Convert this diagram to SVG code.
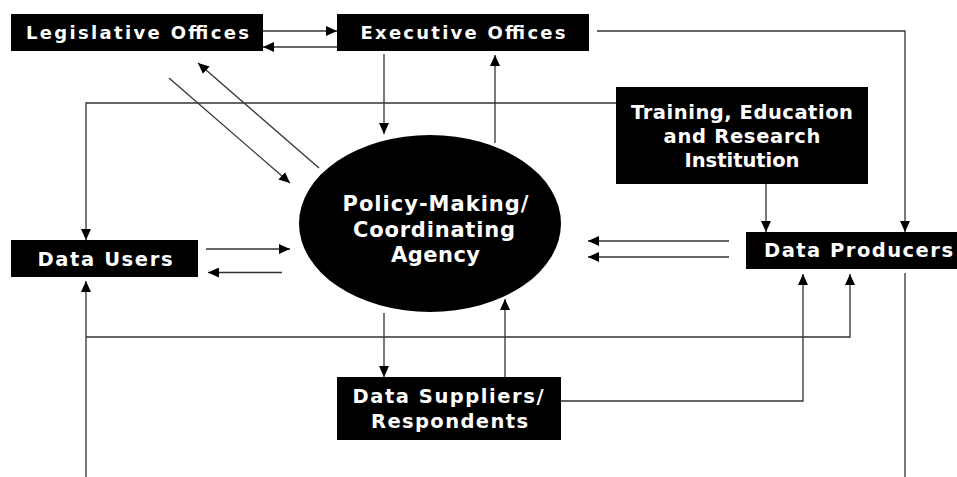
<svg xmlns="http://www.w3.org/2000/svg" width="957" height="477" viewBox="0 0 957 477">
<style>
.box{fill:#000;}
.t{fill:#fff;font-family:"DejaVu Sans","Liberation Sans",sans-serif;font-weight:bold;text-anchor:middle;}
.s{font-size:18px;}
.m{font-size:19.5px;}
.l{font-size:21px;}
.c{fill:none;stroke:#333;stroke-width:1.3;}
.a{marker-end:url(#ah);}
</style>
<defs>
<marker id="ah" markerUnits="userSpaceOnUse" markerWidth="11" markerHeight="10" refX="11" refY="5" orient="auto">
<path d="M0,0 L11,5 L0,10 z" fill="#000"/>
</marker>
</defs>
<rect width="957" height="477" fill="#fff"/>
<g id="connectors">
<line class="c a" x1="263" y1="31" x2="337" y2="31"/>
<line class="c a" x1="337" y1="47" x2="263" y2="47"/>
<polyline class="c a" points="597,31 905,31 905,232"/>
<line class="c a" x1="384" y1="54" x2="384" y2="134"/>
<line class="c a" x1="495" y1="143" x2="495" y2="55"/>
<line class="c a" x1="169" y1="78" x2="290" y2="183"/>
<line class="c a" x1="319" y1="168" x2="198" y2="63"/>
<polyline class="c a" points="616,103 86,103 86,240"/>
<line class="c a" x1="766" y1="184" x2="766" y2="232"/>
<line class="c a" x1="729" y1="241" x2="588" y2="241"/>
<line class="c a" x1="729" y1="257" x2="588" y2="257"/>
<line class="c a" x1="206" y1="249" x2="290" y2="249"/>
<line class="c a" x1="282" y1="272.5" x2="208" y2="272.5"/>
<line class="c a" x1="86" y1="477" x2="86" y2="281"/>
<polyline class="c a" points="86,337 850,337 850,274"/>
<line class="c a" x1="384" y1="313" x2="384" y2="377"/>
<line class="c a" x1="505" y1="377" x2="505" y2="299"/>
<polyline class="c a" points="561,401 803,401 803,274"/>
<line class="c" x1="905" y1="273" x2="905" y2="477"/>
</g>
<g id="legislative">
<rect class="box" x="11" y="14" width="252" height="37"/>
<text class="t s" x="137.5" y="39" textLength="223" lengthAdjust="spacing">Legislative Offices</text>
</g>
<g id="executive">
<rect class="box" x="337" y="14" width="252" height="37"/>
<text class="t s" x="463" y="39" textLength="205" lengthAdjust="spacing">Executive Offices</text>
</g>
<g id="training">
<rect class="box" x="616" y="87" width="252" height="97"/>
<text class="t m" x="742" y="119" textLength="222" lengthAdjust="spacing">Training, Education</text>
<text class="t m" x="742" y="142.7" textLength="157" lengthAdjust="spacing">and Research</text>
<text class="t m" x="742" y="166.7" textLength="115" lengthAdjust="spacing">Institution</text>
</g>
<g id="agency">
<ellipse cx="430" cy="223.5" rx="131" ry="88.5" fill="#000"/>
<text class="t l" x="435.5" y="210.7" textLength="186" lengthAdjust="spacing">Policy-Making/</text>
<text class="t l" x="434" y="236.5" textLength="162" lengthAdjust="spacing">Coordinating</text>
<text class="t l" x="435.5" y="261.7" textLength="89" lengthAdjust="spacing">Agency</text>
</g>
<g id="data-users">
<rect class="box" x="11" y="240" width="187" height="37"/>
<text class="t m" x="105" y="266" textLength="135" lengthAdjust="spacing">Data Users</text>
</g>
<g id="data-producers">
<rect class="box" x="746" y="232" width="220" height="37"/>
<text class="t m" x="858.5" y="256.7" textLength="189" lengthAdjust="spacing">Data Producers</text>
</g>
<g id="data-suppliers">
<rect class="box" x="337" y="377" width="224" height="63"/>
<text class="t m" x="448" y="402.7" textLength="191" lengthAdjust="spacing">Data Suppliers/</text>
<text class="t m" x="449.5" y="428.3" textLength="157" lengthAdjust="spacing">Respondents</text>
</g>
</svg>
